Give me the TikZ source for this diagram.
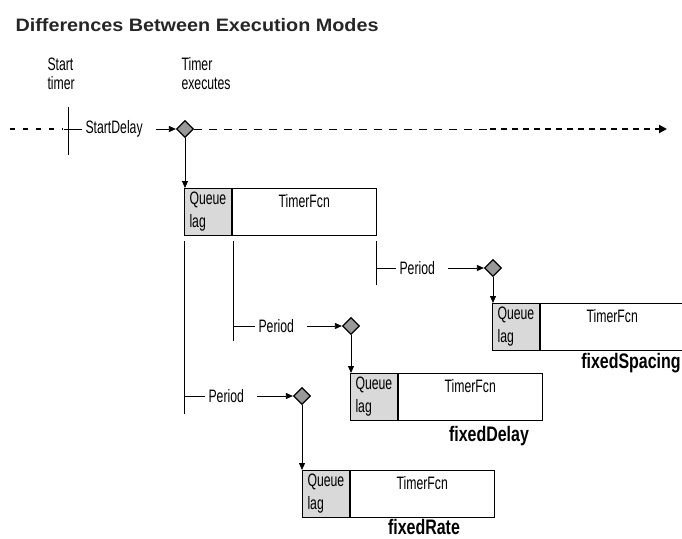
\documentclass[tikz,border=0pt]{standalone}
\usepackage{fontspec}
\setmainfont{Liberation Sans}
\newfontfamily\titlefont{Liberation Sans}[FakeStretch=1.1]
\newfontfamily\narrowfont{Liberation Sans}[FakeStretch=0.68]
\newfontfamily\modefont{Liberation Sans}[FakeStretch=0.76]
\usetikzlibrary{shapes.geometric,arrows.meta,positioning}
\colorlet{queue area}{black!15}
\colorlet{trigger area}{black!40}
\tikzset{cell/.style={draw, thick, inner sep=0pt, minimum height=47pt, anchor=north west},
    queuecell/.style={cell, fill=queue area, minimum width=47pt, align=left,
        font=\narrowfont\fontsize{18}{23}\selectfont},
    fcncell/.style={cell, minimum width=144pt, text height=19pt, text depth=28pt,
        font=\narrowfont\fontsize{18}{23}\selectfont},
    trigger/.style={diamond, draw, very thick, fill=trigger area, minimum size=17pt, inner sep=0pt},
    flow/.style={thick, -{Triangle[length=7pt,width=6pt]}},
    tick/.style={thick},
    small/.style={font=\narrowfont\fontsize{18}{19}\selectfont},
    mode/.style={font=\modefont\bfseries\fontsize{21}{24}\selectfont}}
% one TimerFcn bar: queue lag cell + callback cell
\newcommand\timerbox[2]{%
    \node[queuecell] (q#1) at (#2) {Queue\\lag};
    \node[fcncell] (f#1) at (q#1.north east) {TimerFcn};}

\begin{document}
\begin{tikzpicture}[x=1pt, y=-1pt]
    \path[use as bounding box, clip] (0,0) rectangle (682,538);
    \node[anchor=west, text=black!85, font=\titlefont\bfseries\fontsize{18}{22}\selectfont] (title)
        at (12,25) {Differences Between Execution Modes};

    % time line
    \node[small, align=left, anchor=west] (start) at (44,74) {Start\\timer};
    \node[small, align=left, anchor=west] (exec) at (178,74) {Timer\\executes};
    \coordinate (lineStart) at (10,129);
    \coordinate (startMark) at (68,129);
    \coordinate (midMark) at (490,129);
    \coordinate (lineEnd) at (667,129);
    \node[small, anchor=west] (sd) at (82,129) {StartDelay};
    \node[trigger] (d0) at (185,129) {};
    \draw[line width=2.4pt, dash pattern=on 5pt off 8pt] (lineStart) -- ([xshift=-5pt]startMark);
    \draw[tick] ([yshift=22pt]startMark) -- ([yshift=-26pt]startMark);
    \draw[tick] ([xshift=-4pt]startMark) -- (sd.west);
    \draw[flow] ([xshift=10pt]sd.east) -- (d0.west);
    \draw[thick, dash pattern=on 8pt off 7pt] (d0.east) -- (midMark);
    \draw[line width=2.4pt, dash pattern=on 6pt off 5pt, -{Triangle[length=8pt,width=8pt]}] (midMark) -- (lineEnd);

    % first run and the three modes
    \timerbox{0}{184,188}
    \draw[flow] (d0.south) -- (d0.south |- q0.north);
    \timerbox{1}{492,303}
    \timerbox{2}{350,373}
    \timerbox{3}{302,470}

    \draw[tick] ([yshift=-5pt]f0.south east) -- ++(0,44);
    \draw[tick] ([xshift=2pt,yshift=-5pt]q0.south east) -- ++(0,100);
    \draw[tick] ([yshift=-5pt]q0.south west) -- ++(0,173);

    \foreach \i/\px/\py/\dx in {1/396/268/493, 2/255/326/351, 3/205/396/302} {
        \node[small, anchor=west] (p\i) at (\px,\py) {Period};
        \node[trigger] (d\i) at (\dx,\py) {};
        \draw[flow] ([xshift=10pt]p\i.east) -- (d\i.west);
        \draw[flow] (d\i.south) -- (d\i.south |- q\i.north);
    }
    \draw[tick] (f0.south east |- p1.west) -- (p1.west);
    \draw[tick] ([xshift=2pt]q0.south east |- p2.west) -- (p2.west);
    \draw[tick] (q0.south west |- p3.west) -- (p3.west);

    \node[mode] (spacing) at (631,363) {fixedSpacing};
    \node[mode] (delay) at (489,436) {fixedDelay};
    \node[mode] (rate) at (424,527) {fixedRate};
\end{tikzpicture}
\end{document}
